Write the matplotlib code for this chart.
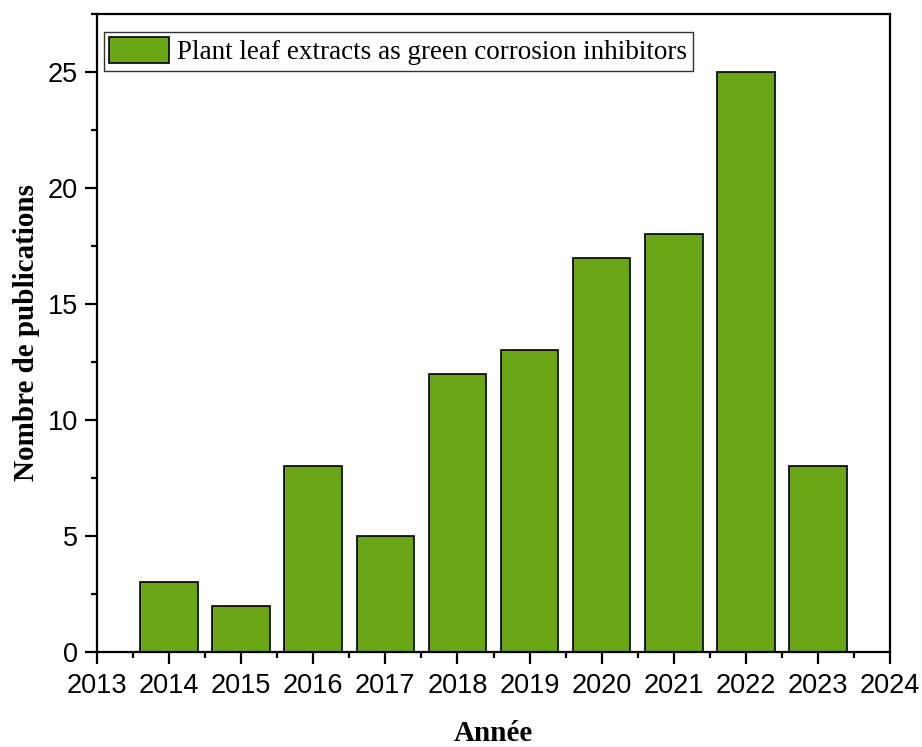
import matplotlib
matplotlib.use("Agg")
import matplotlib.pyplot as plt
from matplotlib.ticker import MultipleLocator

years = [2014, 2015, 2016, 2017, 2018, 2019, 2020, 2021, 2022, 2023]
publications = [3, 2, 8, 5, 12, 13, 17, 18, 25, 8]
series_label = "Plant leaf extracts as green corrosion inhibitors"
bar_color = "#6BA617"

fig = plt.figure(figsize=(9.22, 7.47), dpi=100)
ax = fig.add_axes([0.1052, 0.1272, 0.8601, 0.8541])

ax.bar(years, publications, width=0.8, color=bar_color, edgecolor="black",
       linewidth=1.2, label=series_label, zorder=2)

ax.set_xlim(2013, 2024)
ax.set_ylim(0, 27.5)
ax.xaxis.set_major_locator(MultipleLocator(1))
ax.xaxis.set_minor_locator(MultipleLocator(0.5))
ax.yaxis.set_major_locator(MultipleLocator(5))
ax.yaxis.set_minor_locator(MultipleLocator(2.5))

for side in ax.spines.values():
    side.set_linewidth(1.6)

ax.tick_params(axis="both", which="major", direction="out", length=8.6, width=1.6,
               labelsize=19.5, top=False, right=False)
ax.tick_params(axis="x", which="major", pad=6.5)
ax.tick_params(axis="y", which="major", pad=5)
ax.tick_params(axis="both", which="minor", direction="out", length=4.3, width=1.6,
               top=False, right=False)
for lbl in ax.get_xticklabels() + ax.get_yticklabels():
    lbl.set_family("Liberation Sans")

ax.set_xlabel("Année", family="Liberation Serif", fontweight="bold",
              fontsize=21, labelpad=15)
ax.set_ylabel("Nombre de publications", family="Liberation Serif",
              fontweight="bold", fontsize=21, labelpad=6)

leg = ax.legend(loc="upper left", bbox_to_anchor=(0.0088, 0.972),
                prop={"family": "Liberation Serif", "size": 19.5},
                frameon=True, fancybox=False, edgecolor="black",
                handlelength=2.2, handleheight=1.1, handletextpad=0.3,
                borderpad=0.2, borderaxespad=0.0)
leg.get_frame().set_linewidth(1.0)

fig.savefig("out.png", dpi=100)
